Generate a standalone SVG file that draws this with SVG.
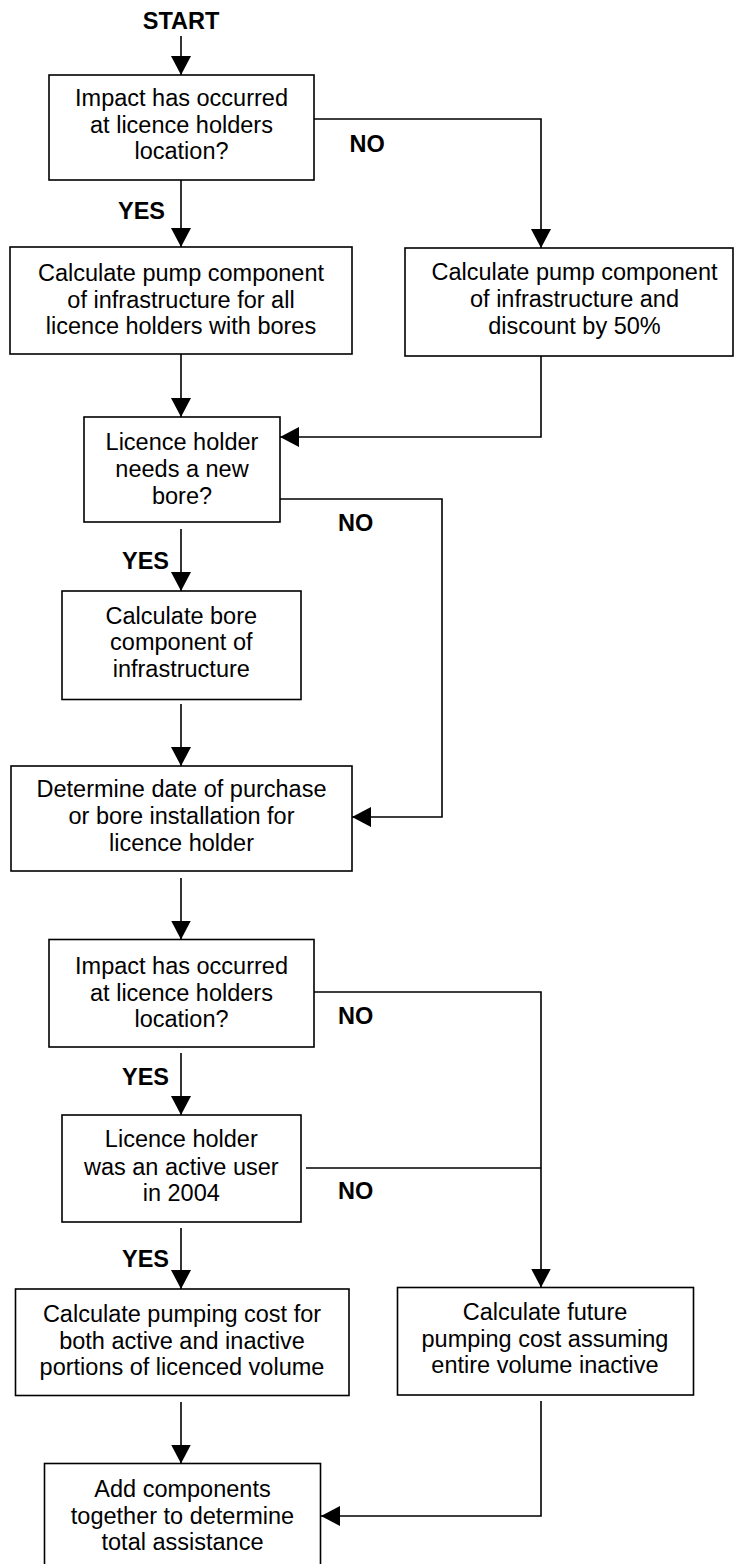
<svg xmlns="http://www.w3.org/2000/svg" width="734" height="1564" viewBox="0 0 734 1564">
<style>
  .box { fill: #ffffff; stroke: #000000; stroke-width: 1.6; }
  .t { font-family: "Liberation Sans", Arial, sans-serif; font-size: 23.5px; fill: #000000; text-anchor: middle; }
  .lbl { font-family: "Liberation Sans", Arial, sans-serif; font-size: 23.5px; font-weight: bold; fill: #000000; }
  .conn { fill: none; stroke: #000000; stroke-width: 1.6; marker-end: url(#arrow); }
  .plain { fill: none; stroke: #000000; stroke-width: 1.6; }
</style>
<defs>
  <marker id="arrow" markerUnits="userSpaceOnUse" markerWidth="20" markerHeight="20" refX="19" refY="10" orient="auto">
    <path d="M0,0 L19,10 L0,20 z" fill="#000000"/>
  </marker>
</defs>
<rect x="0" y="0" width="734" height="1564" fill="#ffffff"/>

<g id="connectors">
  <path class="conn" d="M181,36 V75"/>
  <path class="conn" d="M181,180 V247"/>
  <path class="conn" d="M314,119 H541 V248"/>
  <path class="conn" d="M181,354 V417"/>
  <path class="conn" d="M541,356 V437 H280"/>
  <path class="conn" d="M280,499 H442 V817 H352"/>
  <path class="conn" d="M181,529 V591"/>
  <path class="conn" d="M181,704 V766"/>
  <path class="conn" d="M181,878 V939.5"/>
  <path class="conn" d="M314,992 H541 V1287.5"/>
  <path class="conn" d="M181,1053 V1115"/>
  <path class="plain" d="M306,1168 H541"/>
  <path class="conn" d="M181,1228 V1289"/>
  <path class="conn" d="M181,1402 V1463.5"/>
  <path class="conn" d="M541,1401 V1516 H321"/>
</g>

<g id="labels">
  <text class="lbl" x="181" y="29" text-anchor="middle">START</text>
  <text class="lbl" x="165" y="219" text-anchor="end">YES</text>
  <text class="lbl" x="169" y="569" text-anchor="end">YES</text>
  <text class="lbl" x="169" y="1085" text-anchor="end">YES</text>
  <text class="lbl" x="169" y="1266.5" text-anchor="end">YES</text>
  <text class="lbl" x="349.5" y="151.5">NO</text>
  <text class="lbl" x="338" y="531">NO</text>
  <text class="lbl" x="338" y="1023.5">NO</text>
  <text class="lbl" x="338" y="1199">NO</text>
</g>

<g id="impact1">
  <rect class="box" x="49" y="75" width="265" height="105"/>
  <text class="t" x="181.5" y="106">Impact has occurred</text>
  <text class="t" x="181.5" y="133">at licence holders</text>
  <text class="t" x="181.5" y="159">location?</text>
</g>

<g id="pumpDiscount">
  <rect class="box" x="405" y="248" width="328" height="108"/>
  <text class="t" x="574.5" y="280">Calculate pump component</text>
  <text class="t" x="574.5" y="307">of infrastructure and</text>
  <text class="t" x="574.5" y="334">discount by 50%</text>
</g>

<g id="pumpAll">
  <rect class="box" x="10" y="247" width="342" height="107"/>
  <text class="t" x="181" y="280.5">Calculate pump component</text>
  <text class="t" x="181" y="307.5">of infrastructure for all</text>
  <text class="t" x="181" y="334">licence holders with bores</text>
</g>

<g id="newBore">
  <rect class="box" x="84" y="417" width="196" height="105"/>
  <text class="t" x="182" y="450">Licence holder</text>
  <text class="t" x="182" y="477">needs a new</text>
  <text class="t" x="182" y="504">bore?</text>
</g>

<g id="boreComponent">
  <rect class="box" x="62" y="591" width="239" height="108.5"/>
  <text class="t" x="181.3" y="623.5">Calculate bore</text>
  <text class="t" x="181.3" y="650">component of</text>
  <text class="t" x="181.3" y="676.5">infrastructure</text>
</g>

<g id="determineDate">
  <rect class="box" x="11" y="766" width="341" height="105"/>
  <text class="t" x="181.5" y="797">Determine date of purchase</text>
  <text class="t" x="181.5" y="824">or bore installation for</text>
  <text class="t" x="181.5" y="851">licence holder</text>
</g>

<g id="impact2">
  <rect class="box" x="49" y="939.5" width="265" height="107.5"/>
  <text class="t" x="181.5" y="973.5">Impact has occurred</text>
  <text class="t" x="181.5" y="1000.5">at licence holders</text>
  <text class="t" x="181.5" y="1027">location?</text>
</g>

<g id="activeUser">
  <rect class="box" x="62" y="1115" width="239" height="107"/>
  <text class="t" x="181.3" y="1147">Licence holder</text>
  <text class="t" x="181.3" y="1175">was an active user</text>
  <text class="t" x="181.3" y="1201">in 2004</text>
</g>

<g id="pumpingBoth">
  <rect class="box" x="15.5" y="1289" width="333.5" height="106.5"/>
  <text class="t" x="182" y="1322">Calculate pumping cost for</text>
  <text class="t" x="182" y="1349">both active and inactive</text>
  <text class="t" x="182" y="1375">portions of licenced volume</text>
</g>

<g id="pumpingFuture">
  <rect class="box" x="397.5" y="1287.5" width="296" height="107.5"/>
  <text class="t" x="545" y="1320">Calculate future</text>
  <text class="t" x="545" y="1347">pumping cost assuming</text>
  <text class="t" x="545" y="1373">entire volume inactive</text>
</g>

<g id="addComponents">
  <rect class="box" x="44.5" y="1463.5" width="276" height="107"/>
  <text class="t" x="182.5" y="1497">Add components</text>
  <text class="t" x="182.5" y="1523.5">together to determine</text>
  <text class="t" x="182.5" y="1549.5">total assistance</text>
</g>
</svg>
